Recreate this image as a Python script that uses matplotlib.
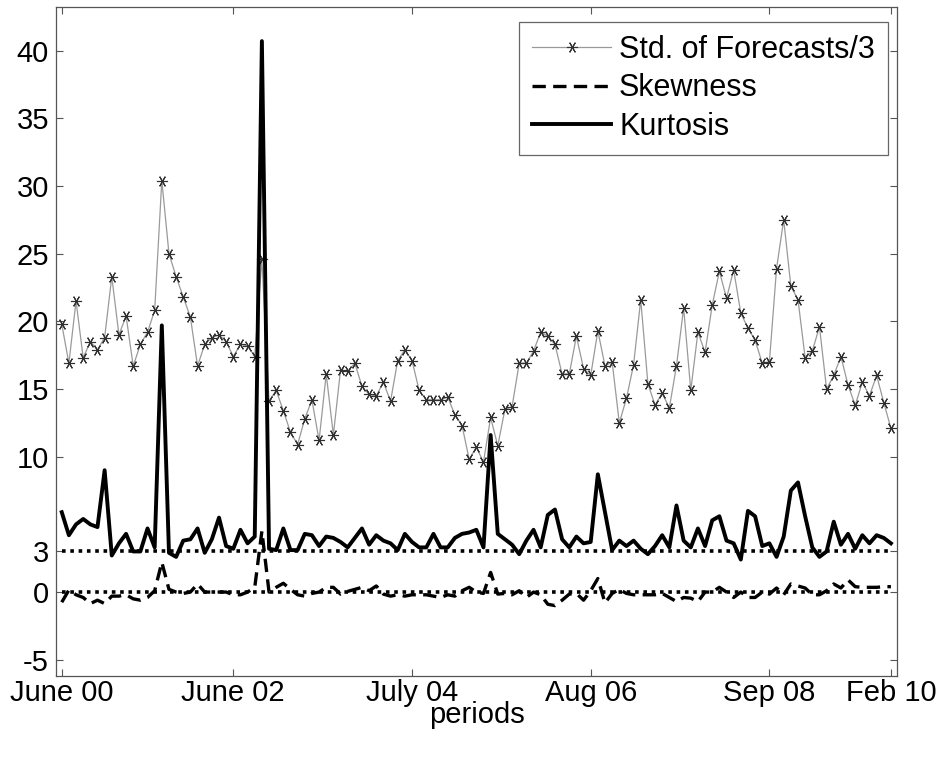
import matplotlib
matplotlib.use("Agg")
import matplotlib.pyplot as plt
import numpy as np

plt.rcParams['font.family'] = ['Liberation Sans', 'DejaVu Sans']
plt.rcParams['axes.unicode_minus'] = False

# ---- data (monthly, June 2000 .. Feb 2010) ----
std_forecasts_3 = [19.8, 16.9, 21.5, 17.3, 18.5, 17.9, 18.8, 23.3, 19.0, 20.4,
                   16.7, 18.3, 19.2, 20.8, 30.4, 25.0, 23.3, 21.8, 20.3, 16.7,
                   18.3, 18.8, 19.0, 18.5, 17.4, 18.3, 18.2, 17.4, 24.6, 14.1,
                   14.9, 13.4, 11.8, 10.9, 12.8, 14.2, 11.2, 16.1, 11.6, 16.4,
                   16.3, 16.9, 15.2, 14.6, 14.5, 15.5, 14.1, 17.1, 17.9, 17.1,
                   14.9, 14.2, 14.2, 14.2, 14.4, 13.1, 12.3, 9.8, 10.7, 9.6,
                   12.9, 10.8, 13.5, 13.7, 16.9, 16.9, 17.8, 19.2, 18.9, 18.3,
                   16.1, 16.1, 18.9, 16.5, 16.0, 19.3, 16.7, 17.0, 12.5, 14.3,
                   16.8, 21.6, 15.4, 13.8, 14.7, 13.6, 16.7, 21.0, 14.9, 19.2,
                   17.7, 21.2, 23.7, 21.7, 23.8, 20.6, 19.5, 18.6, 16.9, 17.0,
                   23.9, 27.5, 22.6, 21.6, 17.3, 17.8, 19.6, 15.0, 16.0, 17.4,
                   15.3, 13.8, 15.5, 14.5, 16.0, 14.0, 12.1]

skewness = [-0.75, 0.15, -0.2, -0.4, -0.85, -0.6, -0.85, -0.3, -0.3, -0.2,
            -0.5, -0.6, -0.4, 0.1, 2.2, 0.2, 0.0, -0.1, 0.0, 0.6,
            0.0, 0.0, 0.0, 0.0, -0.2, -0.2, 0.0, 0.35, 4.5, 0.0,
            0.35, 0.65, 0.2, -0.2, -0.3, -0.1, 0.0, 0.35, 0.35, -0.15,
            0.05, 0.2, 0.35, 0.1, 0.45, -0.15, -0.3, -0.2, -0.3, -0.2,
            -0.2, -0.2, -0.3, -0.4, -0.2, -0.3, 0.1, 0.35, 0.0, -0.1,
            1.45, -0.15, -0.1, -0.2, 0.1, -0.4, 0.0, -0.2, -0.9, -1.0,
            -0.6, -0.15, -0.1, -0.6, 0.1, 1.0, -0.8, -0.1, 0.2, -0.1,
            -0.2, -0.2, -0.2, -0.2, -0.1, -0.4, -0.7, -0.4, -0.45, -0.7,
            0.0, 0.0, 0.35, 0.0, -0.4, 0.0, -0.4, -0.4, 0.0, -0.15,
            0.3, -0.2, 0.6, 0.45, 0.3, -0.2, -0.2, 0.1, 0.6, 0.3,
            0.9, 0.4, 0.35, 0.35, 0.35, 0.4, 0.4]

kurtosis = [5.9, 4.2, 5.0, 5.4, 5.0, 4.8, 9.0, 2.7, 3.6, 4.3,
            3.0, 3.0, 4.7, 3.3, 19.7, 2.9, 2.6, 3.8, 3.9, 4.7,
            2.9, 3.9, 5.5, 3.4, 3.2, 4.6, 3.6, 4.1, 40.7, 3.2,
            3.1, 4.7, 3.1, 3.1, 4.3, 4.2, 3.4, 4.1, 4.0, 3.7,
            3.3, 4.0, 4.7, 3.5, 4.2, 3.8, 3.6, 3.1, 4.3, 3.7,
            3.3, 3.3, 4.3, 3.3, 3.3, 4.0, 4.3, 4.4, 4.6, 3.3,
            11.6, 4.3, 3.9, 3.5, 2.8, 3.8, 4.6, 3.3, 5.7, 6.1,
            3.9, 3.3, 4.1, 3.6, 3.7, 8.7, 5.9, 3.1, 3.8, 3.4,
            3.8, 3.2, 2.8, 3.4, 4.2, 3.3, 6.4, 3.8, 3.3, 4.7,
            3.4, 5.3, 5.6, 3.8, 3.6, 2.4, 6.0, 5.6, 3.4, 3.6,
            2.6, 4.1, 7.5, 8.1, 5.6, 3.3, 2.6, 3.0, 5.2, 3.5,
            4.3, 3.2, 4.2, 3.6, 4.2, 4.0, 3.6]

reference_levels = [3, 0]
xtick_index = [0, 24, 49, 74, 99, 116]
xtick_labels = ['June 00', 'June 02', 'July 04', 'Aug 06', 'Sep 08', 'Feb 10']
ytick_values = [-5, 0, 3, 10, 15, 20, 25, 30, 35, 40]

periods = np.arange(len(std_forecasts_3))

fig = plt.figure(figsize=(9.48, 7.57), dpi=100)
ax = fig.add_axes([0.0591, 0.107, 0.8871, 0.8834])

asterisk = (6, 2, 90)
ax.plot(periods, std_forecasts_3, color='#9a9a9a', lw=0.9,
        marker=asterisk, markersize=8, markeredgecolor='#303030',
        markeredgewidth=0.8, label='Std. of Forecasts/3', zorder=2)
ax.plot(periods, skewness, color='black', lw=2.4, ls=(0, (4, 2.2)),
        label='Skewness', zorder=3)
ax.plot(periods, kurtosis, color='black', lw=2.8, label='Kurtosis', zorder=4)
for lev in reference_levels:
    ax.plot([periods[0], periods[-1]], [lev, lev], color='black', lw=2.6,
            ls=(0, (1, 1.3)), zorder=3)

ax.set_xlim(-0.8, 116.85)
ax.set_ylim(-6.2, 43.2)
ax.set_xticks(xtick_index)
ax.set_xticklabels(xtick_labels)
ax.set_yticks(ytick_values)
ax.set_xlabel('periods', fontsize=21, labelpad=-4)

ax.tick_params(direction='in', length=5, width=0.8, color='#555555',
               labelsize=21, top=True, right=True)
ax.tick_params(axis='y', pad=5)
ax.tick_params(axis='x', pad=2)
for s in ax.spines.values():
    s.set_color('#555555')
    s.set_linewidth(0.9)

leg = ax.legend(loc='upper right', bbox_to_anchor=(0.989, 0.978),
                borderaxespad=0, fontsize=22, frameon=True, fancybox=False,
                edgecolor='#666666', framealpha=1, handlelength=2.6,
                handletextpad=0.25, labelspacing=0.28, borderpad=0.42,
                markerscale=1.0)
leg.get_frame().set_linewidth(0.9)

fig.savefig('out.png', dpi=100)
